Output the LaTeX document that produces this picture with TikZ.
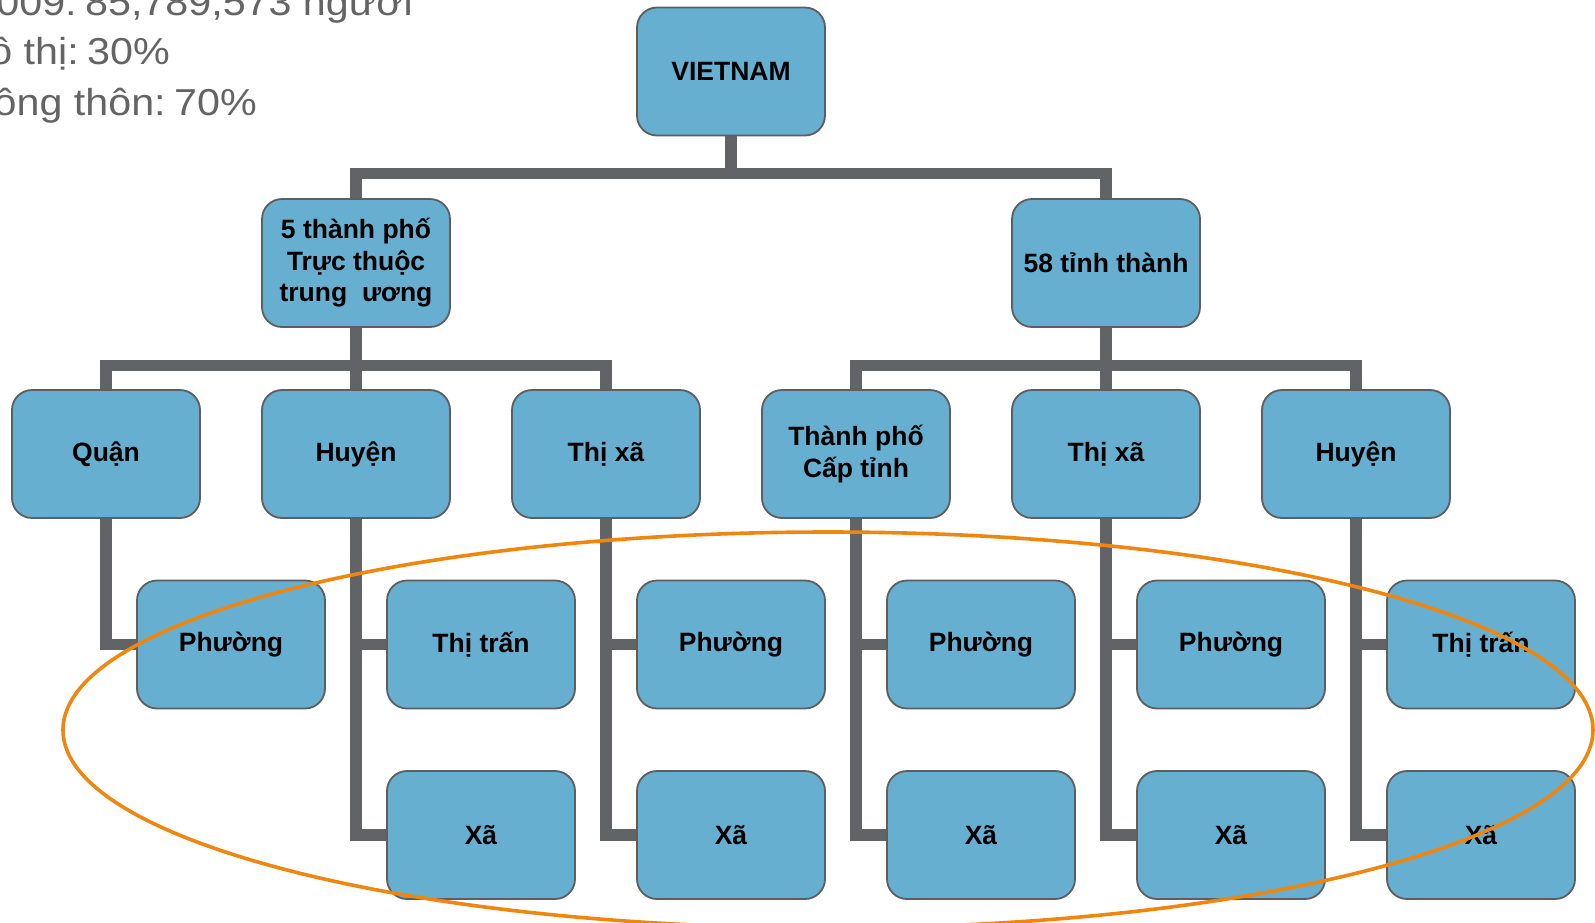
\documentclass[tikz,border=0pt]{standalone}
\usepackage{fontspec}
\setmainfont{Liberation Sans}
\newfontfamily\notefont[FakeStretch=1.1]{Liberation Sans}
\usetikzlibrary{backgrounds}
\definecolor{boxblue}{HTML}{67AFD0}
\definecolor{boxedge}{HTML}{5E5E5E}
\definecolor{linkgray}{HTML}{626366}
\definecolor{ringorange}{HTML}{EE8610}
\definecolor{notegray}{HTML}{646464}
\begin{document}
\begin{tikzpicture}[x=1pt,y=-1pt,
  box/.style={draw=boxedge,line width=1.8pt,fill=boxblue,rounded corners=20pt,
    minimum width=188pt,minimum height=128pt,inner sep=0pt,align=center,
    font=\fontsize{26.5}{31.5}\selectfont\bfseries},
  link/.style={draw=linkgray,line width=11.5pt},
  ring/.style={draw=ringorange,line width=3.6pt},
  note/.style={font=\notefont\fontsize{37.5}{45}\selectfont,text=notegray,anchor=base east,inner sep=0pt}]
\useasboundingbox (0,0) rectangle (1595,922);
\coordinate (bar1) at (0,173.5);
\coordinate (bar2) at (0,365.5);
\node[box] (vn) at (731,71.5) {VIETNAM};
\node[box] (tp5) at (356,263) {5 thành phố\\Trực thuộc\\trung\ \ ương};
\node[box] (t58) at (1106,263) {58 tỉnh thành};
\node[box] (q1) at (106,454) {Quận};
\node[box] (h1) at (356,454) {Huyện};
\node[box] (tx1) at (606,454) {Thị xã};
\node[box] (tpc) at (856,454) {Thành phố\\Cấp tỉnh};
\node[box] (tx2) at (1106,454) {Thị xã};
\node[box] (h2) at (1356,454) {Huyện};
\node[box] (p1) at (231,644.5) {Phường};
\node[box] (tt1) at (481,644.5) {Thị trấn};
\node[box] (p2) at (731,644.5) {Phường};
\node[box] (p3) at (981,644.5) {Phường};
\node[box] (p4) at (1231,644.5) {Phường};
\node[box] (tt2) at (1481,644.5) {Thị trấn};
\node[box] (x1) at (481,835) {Xã};
\node[box] (x2) at (731,835) {Xã};
\node[box] (x3) at (981,835) {Xã};
\node[box] (x4) at (1231,835) {Xã};
\node[box] (x5) at (1481,835) {Xã};
\begin{scope}[on background layer]
  \draw[link] (vn.south) -- (vn.south |- bar1);
  \draw[link] (tp5.north) -- (tp5.north |- bar1) -- (t58.north |- bar1) -- (t58.north);
  \draw[link] (tp5.south) -- (h1.north);
  \draw[link] (q1.north) -- (q1.north |- bar2) -- (tx1.north |- bar2) -- (tx1.north);
  \draw[link] (t58.south) -- (tx2.north);
  \draw[link] (tpc.north) -- (tpc.north |- bar2) -- (h2.north |- bar2) -- (h2.north);
  \draw[link] (q1.south) |- (p1.west);
  \draw[link] (h1.south) |- (x1.west);
  \draw[link] (h1.south |- tt1.west) -- (tt1.west);
  \draw[link] (tx1.south) |- (x2.west);
  \draw[link] (tx1.south |- p2.west) -- (p2.west);
  \draw[link] (tpc.south) |- (x3.west);
  \draw[link] (tpc.south |- p3.west) -- (p3.west);
  \draw[link] (tx2.south) |- (x4.west);
  \draw[link] (tx2.south |- p4.west) -- (p4.west);
  \draw[link] (h2.south) |- (x5.west);
  \draw[link] (h2.south |- tt2.west) -- (tt2.west);
\end{scope}
\draw[ring] (828,730) ellipse [x radius=765, y radius=198];
\begin{scope}
  \clip (0,0) rectangle (1595,922);
  \node[note] (n1) at (413,15) {2009:\kern-3pt\ 85,789,573 người};
  \node[note] (n2) at (170,64.5) {Đô thị:\kern-3pt\ 30\%};
  \node[note] (n3) at (257,115) {Nông thôn:\kern-3pt\ 70\%};
\end{scope}
\end{tikzpicture}
\end{document}
